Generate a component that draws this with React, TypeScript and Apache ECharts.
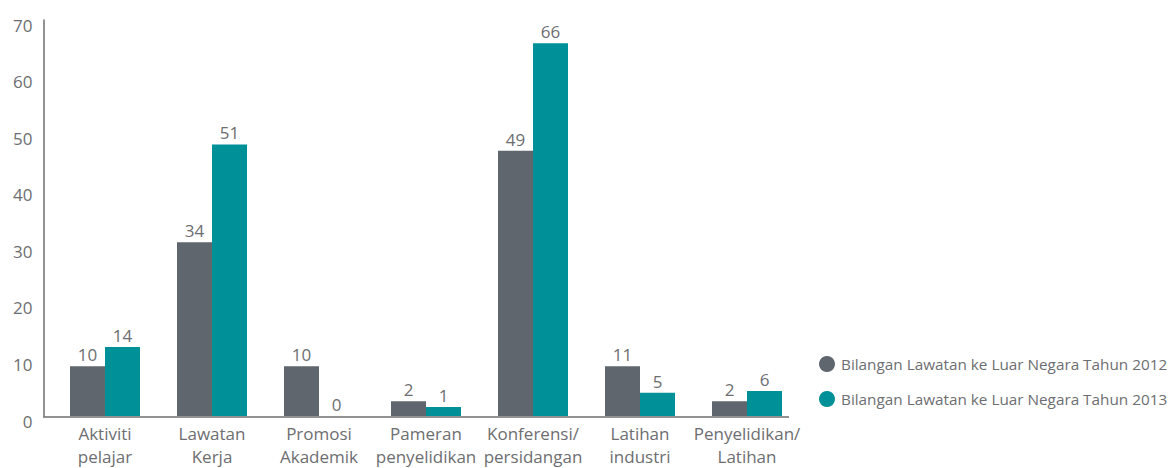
import React, { useEffect, useRef } from "react";
import * as echarts from "echarts";

const categories = [
  "Aktiviti\npelajar",
  "Lawatan\nKerja",
  "Promosi\nAkademik",
  "Pameran\npenyelidikan",
  "Konferensi/\npersidangan",
  "Latihan\nindustri",
  "Penyelidikan/\nLatihan",
];
const seriesNames = [
  "Bilangan Lawatan ke Luar Negara Tahun 2012",
  "Bilangan Lawatan ke Luar Negara Tahun 2013",
];
// printed values
const labels2012 = [10, 34, 10, 2, 49, 11, 2];
const labels2013 = [14, 51, 0, 1, 66, 5, 6];
// bar heights as drawn in the picture
const heights2012 = [8.8, 30.7, 8.8, 2.6, 46.9, 8.8, 2.6];
const heights2013 = [12.2, 48.0, 0, 1.6, 65.9, 4.1, 4.4];
const yTicks = [0, 10, 20, 30, 40, 50, 60, 70];

const FONT = "'Open Sans', 'Noto Sans', sans-serif";
const TEXT = "#6d6e71";
const C2012 = "#5f666d";
const C2013 = "#009097";

export default function App() {
  const ref = useRef<HTMLDivElement>(null);
  useEffect(() => {
    if (!ref.current) return;
    const chart = echarts.init(ref.current, undefined, { renderer: "svg" });
    const mkSeries = (name: string, h: number[], lab: number[], color: string) => ({
      name,
      type: "bar",
      data: h,
      barWidth: 35,
      barGap: "0%",
      itemStyle: { color },
      label: {
        show: true,
        position: "top",
        distance: 3,
        color: TEXT,
        fontSize: 17,
        fontFamily: FONT,
        formatter: (p: any) => String(lab[p.dataIndex]),
      },
    });
    chart.setOption({
      animation: false,
      textStyle: { fontFamily: FONT },
      grid: { left: 51.5, right: 369.5, top: 20, bottom: 51, containLabel: false },
      legend: {
        orient: "vertical",
        left: 814,
        top: 351,
        icon: "circle",
        itemWidth: 16,
        itemHeight: 16,
        itemGap: 19,
        textStyle: { color: TEXT, fontSize: 15.3, fontFamily: FONT, padding: [0, 0, 0, 1] },
        data: seriesNames,
      },
      xAxis: {
        type: "category",
        data: categories,
        axisLine: { show: false },
        axisTick: { show: false },
        axisLabel: {
          color: TEXT,
          fontSize: 17,
          fontFamily: FONT,
          margin: 6,
          lineHeight: 23,
          interval: 0,
        },
      },
      yAxis: {
        type: "value",
        min: yTicks[0],
        max: yTicks[yTicks.length - 1],
        interval: 10,
        offset: 8,
        axisLine: { show: true, lineStyle: { color: "#6d6e71", width: 1.5 } },
        axisTick: { show: false },
        splitLine: { show: false },
        axisLabel: {
          color: TEXT,
          fontSize: 17,
          fontFamily: FONT,
          margin: 11,
          verticalAlign: "top",
          lineHeight: 10,
        },
      },
      graphic: [
        {
          type: "line",
          shape: { x1: 43, y1: 417, x2: 789, y2: 417 },
          style: { stroke: "#6d6e71", lineWidth: 1.5 },
          z: 100,
        },
      ],
      series: [
        mkSeries(seriesNames[0], heights2012, labels2012, C2012),
        mkSeries(seriesNames[1], heights2013, labels2013, C2013),
      ],
    });
    return () => chart.dispose();
  }, []);
  return (
    <div
      ref={ref}
      style={{ position: "fixed", left: 0, top: 0, width: 1170, height: 468, background: "#fff" }}
    />
  );
}
